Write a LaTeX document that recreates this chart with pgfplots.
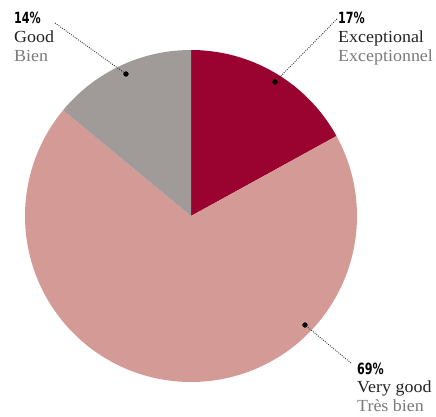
\documentclass[border=0pt]{standalone}
\usepackage{fontspec}
\setmainfont{Liberation Serif}
\newfontfamily\pctfont{DejaVu Sans}
\usepackage{pgfplots}
\pgfplotsset{compat=1.18}
\usepackage{graphicx}
\definecolor{cexc}{HTML}{9A0330}
\definecolor{cvg}{HTML}{D49A96}
\definecolor{cgood}{HTML}{A09A99}
\definecolor{ctxt}{HTML}{222222}
\definecolor{cfr}{HTML}{7A7A7A}
% data (percent)
\def\vExc{17}
\def\vVG{69}
\def\vGood{14}
\pgfmathsetmacro\aA{90}
\pgfmathsetmacro\aB{\aA-3.6*\vExc}
\pgfmathsetmacro\aC{\aB-3.6*\vVG}
\pgfmathsetmacro\aD{\aC-3.6*\vGood}
\newcommand\pct[1]{{\pctfont\bfseries\fontsize{15.5}{15}\selectfont\scalebox{0.72}[1]{#1}}}
\newcommand\en[1]{{\fontsize{17}{19}\selectfont\color{ctxt}\scalebox{1.06}[1]{#1}}}
\newcommand\fr[1]{{\fontsize{17}{19}\selectfont\color{cfr}\scalebox{1.06}[1]{#1}}}
\begin{document}
\begin{tikzpicture}
\begin{axis}[name=ax, x=1bp, y=1bp, xmin=0, xmax=436, ymin=0, ymax=416,
  hide axis, clip=false, scale only axis]
\addplot[fill=cexc, draw=none, domain=\aB:\aA, samples=60, variable=\t]
  ({191+166*cos(t)},{200+166*sin(t)}) -- (axis cs:191,200) -- cycle;
\addplot[fill=cvg, draw=none, domain=\aC:\aB, samples=150, variable=\t]
  ({191+166*cos(t)},{200+166*sin(t)}) -- (axis cs:191,200) -- cycle;
\addplot[fill=cgood, draw=none, domain=\aD:\aC, samples=60, variable=\t]
  ({191+166*cos(t)},{200+166*sin(t)}) -- (axis cs:191,200) -- cycle;
% leader lines
\pgfplotsset{leader/.style={dash pattern=on 0.9bp off 1.3bp, line width=0.9bp, color=black!80}}
\addplot[leader] coordinates {(55,393) (126,342)};
\addplot[leader] coordinates {(337,397) (275,334)};
\addplot[leader] coordinates {(351,53) (305,91)};
\addplot[only marks, mark=*, mark size=2.4bp, black] coordinates {(126,342) (275,334) (305,91)};
% labels
\node[anchor=base west, inner sep=0pt] at (axis cs:14,392) {\pct{14\%}};
\node[anchor=base west, inner sep=0pt] at (axis cs:14,374) {\en{Good}};
\node[anchor=base west, inner sep=0pt] at (axis cs:14,355) {\fr{Bien}};
\node[anchor=base west, inner sep=0pt] at (axis cs:338,392) {\pct{17\%}};
\node[anchor=base west, inner sep=0pt] at (axis cs:338,374) {\en{Exceptional}};
\node[anchor=base west, inner sep=0pt] at (axis cs:338,355) {\fr{Exceptionnel}};
\node[anchor=base west, inner sep=0pt] at (axis cs:357,42) {\pct{69\%}};
\node[anchor=base west, inner sep=0pt] at (axis cs:357,24) {\en{Very good}};
\node[anchor=base west, inner sep=0pt] at (axis cs:357,5) {\fr{Très bien}};
\end{axis}
\pgfresetboundingbox
\useasboundingbox (ax.south west) rectangle (ax.north east);
\end{tikzpicture}
\end{document}
